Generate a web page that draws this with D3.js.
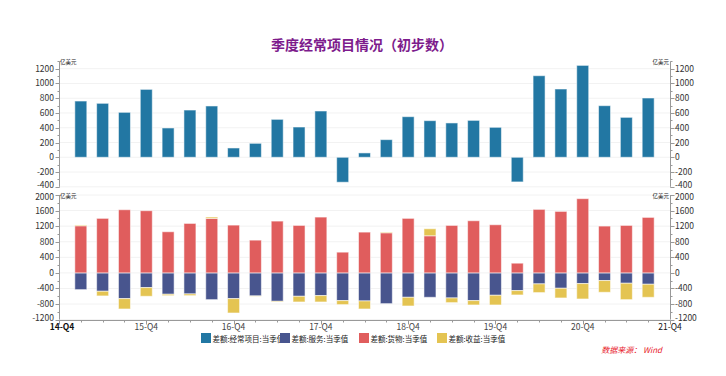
<!DOCTYPE html>
<html><head><meta charset="utf-8">
<script src="https://cdn.jsdelivr.net/npm/d3@7"></script>
<style>
body{margin:0;background:#fff;}
svg{display:block;font-family:"Noto Sans CJK SC","Noto Sans",sans-serif;}
</style></head>
<body><svg id="c" width="726" height="376"></svg>
<script>
const quarters = ["15-Q1","15-Q2","15-Q3","15-Q4","16-Q1","16-Q2","16-Q3","16-Q4","17-Q1","17-Q2","17-Q3","17-Q4","18-Q1","18-Q2","18-Q3","18-Q4","19-Q1","19-Q2","19-Q3","19-Q4","20-Q1","20-Q2","20-Q3","20-Q4","21-Q1","21-Q2","21-Q3"];
const currentAccount = [762,731,609,920,397,640,695,126,189,514,410,627,-338,59,239,550,496,465,500,406,-334,1105,925,1245,699,541,803];
const services = [-430,-472,-661,-378,-549,-541,-687,-661,-592,-730,-601,-584,-712,-721,-790,-627,-627,-644,-712,-575,-455,-283,-395,-275,-197,-266,-292];
const goods = [1210,1400,1622,1597,1056,1270,1400,1227,841,1330,1219,1433,532,1047,1030,1400,953,1219,1339,1236,249,1631,1579,1906,1202,1219,1425];
const income = [20,-120,-266,-223,-35,-43,35,-369,-8,-17,-146,-163,-103,-206,17,-223,180,-120,-112,-249,-112,-223,-249,-395,-301,-421,-335];
const xTickLabels = ["14-Q4","15-Q4","16-Q4","17-Q4","18-Q4","19-Q4","20-Q4","21-Q4"];
const topTicks = [-400,-200,0,200,400,600,800,1000,1200];
const bottomTicks = [-1200,-800,-400,0,400,800,1200,1600,2000];
const legendNames = ["差额:经常项目:当季值","差额:服务:当季值","差额:货物:当季值","差额:收益:当季值"];
const colors = {ca:"#2277a3", services:"#48558e", goods:"#e05d5d", income:"#e4c452"};

const svg = d3.select("#c");
const L = 59, R = 670;
const x = d3.scaleLinear().domain([0, 28]).range([L, R]);
const bw = 12;
const yTop = d3.scaleLinear().domain([-400, 1200]).range([186.8, 68.7]);
const yBot = d3.scaleLinear().domain([-1200, 2000]).range([319.6, 195]);

// title
svg.append("text").attr("x", 362).attr("y", 50).attr("text-anchor","middle")
  .attr("font-size", 14).attr("font-weight","bold").attr("fill","#7d1b8c")
  .text("季度经常项目情况（初步数）");

function drawYAxes(y, ticks, minorStep, topVal, nudge){
  const g = svg.append("g");
  g.selectAll(".grid").data(ticks).enter().append("line")
    .attr("x1", L).attr("x2", R).attr("y1", d=>y(d)).attr("y2", d=>y(d))
    .attr("stroke", "#f2f2f2").attr("stroke-width", 1);
  const minor = d3.range(ticks[0], topVal + 1, minorStep);
  [L, R].forEach((ax, i) => {
    const dir = i === 0 ? -1 : 1;
    g.append("line").attr("x1", ax+0.5).attr("x2", ax+0.5)
      .attr("y1", y(topVal)).attr("y2", y(ticks[0]))
      .attr("stroke", "#999");
    g.selectAll(null).data(minor).enter().append("line")
      .attr("x1", ax+0.5).attr("x2", ax+0.5 + dir*2)
      .attr("y1", d=>Math.round(y(d))+0.5).attr("y2", d=>Math.round(y(d))+0.5)
      .attr("stroke", "#999");
    g.selectAll(null).data(ticks).enter().append("line")
      .attr("x1", ax+0.5).attr("x2", ax+0.5 + dir*4)
      .attr("y1", d=>Math.round(y(d))+0.5).attr("y2", d=>Math.round(y(d))+0.5)
      .attr("stroke", "#999");
    g.selectAll(null).data(ticks).enter().append("text")
      .attr("x", ax + dir*5).attr("y", (d,j)=>y(d)+3 + nudge(j, ticks.length))
      .attr("text-anchor", i===0 ? "end" : "start")
      .attr("font-size", 8.5).attr("fill", "#333")
      .text(d=>d);
  });
  g.append("text").attr("x", L+1).attr("y", y(topVal)+3).attr("font-size", 5.5).attr("fill","#222").text("亿美元");
  g.append("text").attr("x", R-1).attr("y", y(topVal)+3).attr("text-anchor","end").attr("font-size", 5.5).attr("fill","#222").text("亿美元");
}

// small nudges keep the touching end labels of the two panels apart
drawYAxes(yTop, topTicks, 100, 1300, (j,n)=> j===0 ? -2 : 0);
drawYAxes(yBot, bottomTicks, 200, 2000, (j,n)=> j===n-1 ? 2 : (j===0 ? -1.5 : 0));

// top bars
svg.append("g").selectAll("rect").data(currentAccount).enter().append("rect")
  .attr("x", (d,i)=>x(i+1)-bw/2)
  .attr("y", d=>yTop(Math.max(0,d)))
  .attr("width", bw)
  .attr("height", d=>Math.abs(yTop(d)-yTop(0)))
  .attr("fill", colors.ca).attr("stroke","#fff").attr("stroke-opacity",0.55).attr("stroke-width",1);

// bottom stacked bars
const table = quarters.map((q,i)=>({q, services:services[i], goods:goods[i], income:income[i]}));
const keys = ["services","goods","income"];
const stacked = d3.stack().keys(keys).offset(d3.stackOffsetDiverging)(table);
svg.append("g").selectAll("g").data(stacked).enter().append("g")
  .attr("fill", d=>colors[d.key])
  .selectAll("rect").data(d=>d).enter().append("rect")
  .attr("x", (d,i)=>x(i+1)-bw/2)
  .attr("y", d=>yBot(d[1]))
  .attr("width", bw)
  .attr("height", d=>Math.abs(yBot(d[0])-yBot(d[1])))
  .attr("stroke","#fff").attr("stroke-opacity",0.55).attr("stroke-width",1);

// x axis
const xa = svg.append("g");
const xy = Math.round(yBot(-1200))+0.5;
xa.append("line").attr("x1", L).attr("x2", R).attr("y1", xy).attr("y2", xy).attr("stroke","#999");
xa.selectAll(null).data(d3.range(0, 29)).enter().append("line")
  .attr("x1", d=>Math.round(x(d))+0.5).attr("x2", d=>Math.round(x(d))+0.5)
  .attr("y1", xy).attr("y2", d=> xy + (d%4===0 ? 4 : 2)).attr("stroke","#999");
xa.selectAll(null).data(xTickLabels).enter().append("text")
  .attr("x", (d,i)=>x(i*4) + (i===0 ? 3 : 0)).attr("y", 330)
  .attr("text-anchor","middle").attr("font-size", 8.5)
  .attr("fill", (d,i)=> (i===0||i===xTickLabels.length-1) ? "#111" : "#444")
  .attr("font-weight", (d,i)=> (i===0) ? "bold" : "normal")
  .text(d=>d);

// legend
const legendX = [201, 280, 359, 437];
const legendColors = [colors.ca, colors.services, colors.goods, colors.income];
const lg = svg.append("g");
legendNames.forEach((n,i)=>{
  lg.append("rect").attr("x", legendX[i]).attr("y", 333).attr("width", 10).attr("height", 10).attr("fill", legendColors[i]);
  lg.append("text").attr("x", legendX[i]+11.5).attr("y", 341.5).attr("font-size", 7.5).attr("fill","#222").text(n);
});

// source
svg.append("text").attr("x", 662).attr("y", 353).attr("text-anchor","end")
  .attr("font-size", 8).attr("font-style","italic").attr("fill","#e8202a")
  .text("数据来源：  Wind");
</script></body></html>
